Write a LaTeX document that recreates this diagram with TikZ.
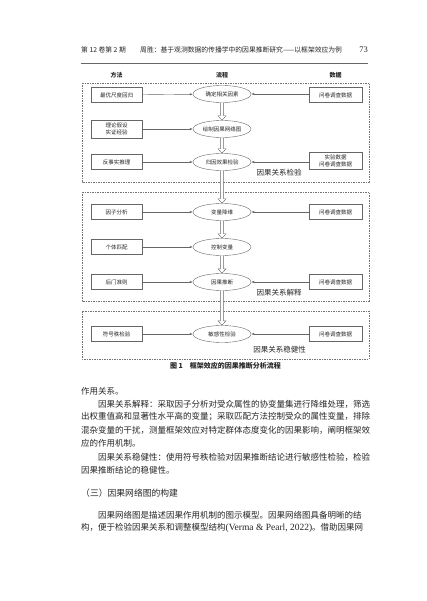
\documentclass[tikz,border=0pt]{standalone}
\usepackage{fontspec}
\newfontfamily\cjk{Noto Sans CJK SC}
\newfontfamily\lserif{Liberation Serif}
\usetikzlibrary{arrows.meta,shapes.geometric,calc}
\newcommand\hollowarrow[2]{%
  \draw[harrow] let \p1=(#1.south), \p2=(#2.north) in
    (\x1-1.6pt,\y1) -- (\x1-1.6pt,\y2+4.5pt) -- (\x1-4pt,\y2+4.5pt) -- (\x1,\y2)
    -- (\x1+4pt,\y2+4.5pt) -- (\x1+1.6pt,\y2+4.5pt) -- (\x1+1.6pt,\y1);}
\begin{document}
\begin{tikzpicture}[x=1pt,y=-1pt,
  every node/.style={inner sep=0pt, text=black!85},
  hdr/.style={font=\cjk\fontsize{6.8}{8}\selectfont, anchor=west},
  colhead/.style={font=\cjk\bfseries\fontsize{6}{7}\selectfont},
  frame/.style={draw=black!55, line width=0.4pt, dash pattern=on 1.5pt off 1pt},
  mbox/.style={draw=black!60, line width=0.4pt, minimum width=51pt, minimum height=15pt, align=center, font=\cjk\fontsize{5.5}{6.5}\selectfont},
  dbox/.style={mbox, minimum width=53pt},
  proc/.style={ellipse, draw=black!60, line width=0.4pt, minimum width=58pt, minimum height=17pt, font=\cjk\fontsize{5.5}{6.5}\selectfont},
  lab/.style={font=\cjk\fontsize{7.5}{9}\selectfont},
  conn/.style={draw=black!60, line width=0.4pt, -{Latex[length=3pt,width=2.2pt]}},
  harrow/.style={draw=black!60, line width=0.4pt, fill=white},
  body/.style={anchor=west, font=\cjk\fontsize{8.5}{10}\selectfont},
]
\fill[white] (0,0) rectangle (427,601);
\useasboundingbox (0,0) rectangle (427,601);

% header
\node[hdr] (h1) at (81,50) {第 12 卷第 2 期};
\node[hdr] (h2) at (140,50) {周胜：基于观测数据的传播学中的因果推断研究——以框架效应为例};
\node[anchor=east, font=\lserif\fontsize{8.5}{10}\selectfont] (h3) at (368,50) {73};
\draw[black!60, line width=0.7pt] (81,63) -- (368,63);

% column heads
\node[colhead] (c1) at (116.5,75) {方法};
\node[colhead] (c2) at (222,75) {流程};
\node[colhead] (c3) at (335.5,75) {数据};

% frames
\draw[frame] (82,83) rectangle (369,182);
\draw[frame] (82,192) rectangle (369,301);
\draw[frame] (82,311) rectangle (369,359);

% block 1
\node[mbox] (m1) at (116.5,95) {最优尺度回归};
\node[proc] (p1) at (222,94) {确定相关因素};
\node[dbox] (d1) at (335.5,95) {问卷调查数据};
\node[mbox, minimum height=18pt] (m2) at (116.5,129) {理论假设\\实证经验};
\node[proc] (p2) at (222,129) {绘制因果网络图};
\node[mbox] (m3) at (116.5,162) {反事实推理};
\node[proc] (p3) at (222,162) {归因效果检验};
\node[dbox, minimum height=17pt] (d3) at (335.5,161) {实验数据\\问卷调查数据};
\node[lab] (l1) at (279,173) {因果关系检验};

% block 2
\node[mbox] (m4) at (116.5,212) {因子分析};
\node[proc] (p4) at (222,212) {变量降维};
\node[dbox] (d4) at (335.5,212) {问卷调查数据};
\node[mbox] (m5) at (116.5,247) {个体匹配};
\node[proc] (p5) at (222,247) {控制变量};
\node[mbox] (m6) at (116.5,282) {后门准则};
\node[proc] (p6) at (222,282) {因果推断};
\node[dbox] (d6) at (335.5,282) {问卷调查数据};
\node[lab] (l2) at (279,293) {因果关系解释};

% block 3
\node[mbox] (m7) at (116.5,334) {符号秩检验};
\node[proc] (p7) at (222,334) {敏感性检验};
\node[dbox] (d7) at (335.5,334) {问卷调查数据};
\node[lab] (l3) at (279.5,350) {因果关系稳健性};

% connectors
\foreach \m/\p in {m1/p1,m2/p2,m3/p3,m4/p4,m5/p5,m6/p6,m7/p7}
  \draw[conn] (\m) -- (\p);
\foreach \d/\p in {d1/p1,d3/p3,d4/p4,d6/p6,d7/p7}
  \draw[conn] (\d.west |- \p) -- (\p);
\hollowarrow{p1}{p2}
\hollowarrow{p2}{p3}
\hollowarrow{p3}{p4}
\hollowarrow{p4}{p5}
\hollowarrow{p5}{p6}
\hollowarrow{p6}{p7}

% caption
\node[font=\cjk\bfseries\fontsize{7}{8}\selectfont] (cap) at (225.5,366) {图 1\quad 框架效应的因果推断分析流程};

% body text
\node[body] (t1) at (81,391) {作用关系。};
\node[body] (t2) at (98,404) {因果关系解释：采取因子分析对受众属性的协变量集进行降维处理，筛选};
\node[body] (t3) at (81,417) {出权重值高和显著性水平高的变量；采取匹配方法控制受众的属性变量，排除};
\node[body] (t4) at (81,430) {混杂变量的干扰，测量框架效应对特定群体态度变化的因果影响，阐明框架效};
\node[body] (t5) at (81,443) {应的作用机制。};
\node[body] (t6) at (98,457) {因果关系稳健性：使用符号秩检验对因果推断结论进行敏感性检验，检验};
\node[body] (t7) at (81,470) {因果推断结论的稳健性。};
\node[body, font=\cjk\fontsize{8.8}{10}\selectfont] (t8) at (81,493) {（三）因果网络图的构建};
\node[body] (t9) at (98,515) {因果网络图是描述因果作用机制的图示模型。因果网络图具备明晰的结};
\node[body] (t10) at (81,528) {构，便于检验因果关系和调整模型结构{\lserif\fontsize{9.5}{10}\selectfont(Verma \& Pearl, 2022)}。借助因果网};
\end{tikzpicture}
\end{document}
